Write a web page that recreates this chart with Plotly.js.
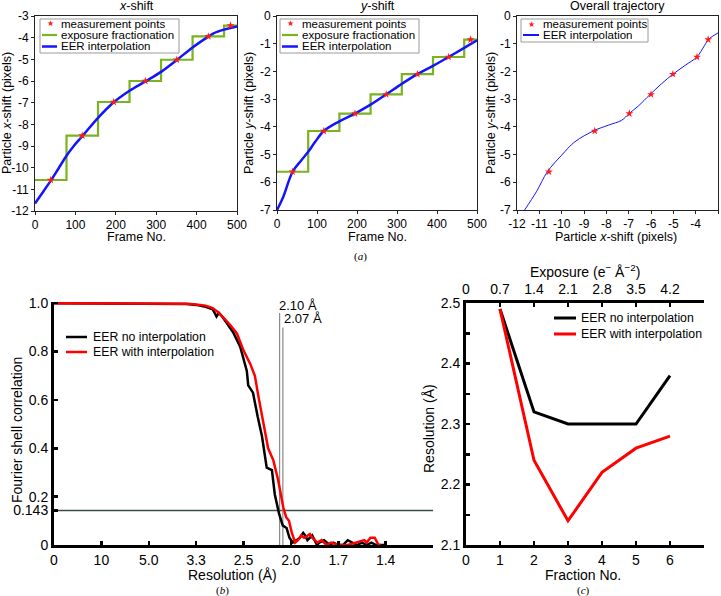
<!DOCTYPE html>
<html><head><meta charset="utf-8">
<script src="https://cdn.plot.ly/plotly-3.0.1.min.js"></script>
<style>html,body{margin:0;padding:0;background:#fff}#c{width:721px;height:596px}</style>
</head><body><div id="c"></div>
<script>
// ---------- Panel (a) data ----------
const frames = [0, 15, 39, 60, 78, 95, 117, 156, 195, 234, 273, 312, 351, 390, 429, 442, 468, 500];
const xShiftEER = [-11.65, -11.25, -10.6, -9.98, -9.45, -9.02, -8.55, -7.7, -6.98, -6.45, -6.02, -5.58, -5.03, -4.45, -3.95, -3.8, -3.63, -3.48];
const yShiftEER = [-7.0, -6.55, -5.62, -5.22, -4.9, -4.55, -4.15, -3.8, -3.52, -3.2, -2.83, -2.45, -2.10, -1.8, -1.48, -1.37, -1.15, -0.88];
const stepFrames = [0, 78, 156, 234, 312, 390, 468, 500];
const xShiftSteps = [-10.57, -8.52, -6.97, -6.0, -5.02, -3.94, -3.44, -3.44];
const yShiftSteps = [-5.62, -4.15, -3.52, -2.83, -2.10, -1.48, -0.85, -0.85];
const measFrames = [39, 117, 195, 273, 351, 429, 484];
const measX = [-10.57, -8.52, -6.97, -6.0, -5.02, -3.94, -3.44];
const measY = [-5.62, -4.15, -3.52, -2.83, -2.10, -1.48, -0.85];
const trajX = [-11.66, -11.13, -10.64, -10.0, -9.41, -8.56, -7.91, -7.31, -6.98, -6.57, -6.04, -5.52, -5.02, -4.47, -3.95, -3.6, -3.42, -3.0];
const trajY = [-7.0, -6.34, -5.62, -5.02, -4.54, -4.14, -3.94, -3.76, -3.52, -3.25, -2.83, -2.44, -2.10, -1.78, -1.48, -1.06, -0.84, -0.61];
const frameTicks = [0, 100, 200, 300, 400, 500];
const xShiftTicks = [-3, -4, -5, -6, -7, -8, -9, -10, -11, -12];
const yShiftTicks = [0, -1, -2, -3, -4, -5, -6, -7];
const trajXTicks = [-12, -11, -10, -9, -8, -7, -6, -5, -4, -3];

// ---------- Panel (b) data (spatial frequency 1/Å) ----------
const fscFreqNo = [0, 0.05, 0.1, 0.15, 0.2, 0.25, 0.28, 0.30, 0.32, 0.335, 0.343, 0.348, 0.355, 0.365, 0.378, 0.393, 0.407, 0.41, 0.42, 0.43, 0.439, 0.449, 0.46, 0.466, 0.475, 0.483, 0.491, 0.497, 0.504, 0.512, 0.519, 0.526, 0.53, 0.535, 0.54, 0.545, 0.55, 0.555, 0.56, 0.57, 0.582, 0.59, 0.60, 0.61, 0.62, 0.63, 0.64, 0.65, 0.66, 0.67, 0.68, 0.69, 0.70];
const fscNo     = [1.0, 1.0, 1.0, 1.0, 1.0, 1.0, 0.997, 0.993, 0.985, 0.975, 0.945, 0.96, 0.945, 0.917, 0.88, 0.82, 0.72, 0.66, 0.63, 0.53, 0.45, 0.32, 0.31, 0.21, 0.13, 0.08, 0.07, 0.03, 0.01, 0.02, 0.03, 0.05, 0.04, 0.02, 0.03, 0.04, 0.02, 0.0, 0.01, 0.02, 0.0, 0.01, 0.0, 0.0, 0.02, 0.01, 0.0, 0.01, 0.0, 0.01, 0.0, 0.0, 0.0];
const fscFreqIn = [0, 0.05, 0.1, 0.15, 0.2, 0.25, 0.28, 0.30, 0.32, 0.335, 0.345, 0.36, 0.372, 0.386, 0.40, 0.414, 0.424, 0.431, 0.442, 0.452, 0.463, 0.473, 0.484, 0.49, 0.496, 0.502, 0.509, 0.515, 0.522, 0.528, 0.533, 0.54, 0.545, 0.55, 0.556, 0.565, 0.575, 0.585, 0.60, 0.62, 0.64, 0.655, 0.66, 0.668, 0.677, 0.685, 0.69];
const fscIn     = [1.0, 1.0, 1.0, 1.0, 1.0, 1.0, 0.998, 0.995, 0.99, 0.98, 0.965, 0.935, 0.91, 0.875, 0.805, 0.75, 0.70, 0.62, 0.50, 0.40, 0.35, 0.27, 0.155, 0.115, 0.10, 0.05, 0.01, 0.02, 0.04, 0.03, 0.035, 0.045, 0.03, 0.02, 0.01, 0.02, 0.0, 0.01, 0.0, 0.0, 0.01, 0.02, 0.01, 0.03, 0.03, 0.0, 0.0];
const resTickVals = [0, 0.1, 0.2, 0.3, 0.4, 0.5, 0.6, 0.7];
const resTickText = ["0", "10", "5.0", "3.3", "2.5", "2.0", "1.7", "1.4"];
const fscTickVals = [0, 0.143, 0.2, 0.4, 0.6, 0.8, 1.0];
const fscTickText = ["0", "0.143", "0.2", "0.4", "0.6", "0.8", "1.0"];
const cutoffRes = [2.10, 2.07];
const cutoffTop = [0.96, 0.90];
const fscThreshold = 0.143;

// ---------- Panel (c) data ----------
const fractions = [1, 2, 3, 4, 5, 6];
const resNoInterp = [2.49, 2.32, 2.30, 2.30, 2.30, 2.38];
const resInterp = [2.49, 2.24, 2.14, 2.22, 2.26, 2.28];
const fractionTicks = [0, 1, 2, 3, 4, 5, 6];
const resTicks = [2.1, 2.2, 2.3, 2.4, 2.5];
const exposureTicks = [0, 0.7, 1.4, 2.1, 2.8, 3.5, 4.2];
const exposureText = ["0", "0.7", "1.4", "2.1", "2.8", "3.5", "4.2"];

const F = "Liberation Sans, Arial, sans-serif";
const GREEN = "#79b41e", BLUE = "#1414ff", RED = "#ff0000", STAR = "#ff1a1a";
const hy = v => String(v);
const W = 721, H = 596;
const px = v => v / W, py = v => 1 - v / H;

const traces = [
  // panel 1
  {x: stepFrames, y: xShiftSteps, xaxis: 'x', yaxis: 'y', mode: 'lines', line: {shape: 'hv', color: GREEN, width: 2.2}, name: 'exposure fractionation'},
  {x: frames, y: xShiftEER, xaxis: 'x', yaxis: 'y', mode: 'lines', line: {shape: 'spline', color: BLUE, width: 2.5}, name: 'EER interpolation'},
  {x: measFrames, y: measX, xaxis: 'x', yaxis: 'y', mode: 'markers', name: 'measurement points', marker: {symbol: 'star', size: 6, color: STAR}},
  // panel 2
  {x: stepFrames, y: yShiftSteps, xaxis: 'x2', yaxis: 'y2', mode: 'lines', line: {shape: 'hv', color: GREEN, width: 2.2}, name: 'exposure fractionation'},
  {x: frames, y: yShiftEER, xaxis: 'x2', yaxis: 'y2', mode: 'lines', line: {shape: 'spline', color: BLUE, width: 2.5}, name: 'EER interpolation'},
  {x: measFrames, y: measY, xaxis: 'x2', yaxis: 'y2', mode: 'markers', name: 'measurement points', marker: {symbol: 'star', size: 6, color: STAR}},
  // panel 3
  {x: trajX, y: trajY, xaxis: 'x3', yaxis: 'y3', mode: 'lines', line: {shape: 'spline', color: BLUE, width: 1}, name: 'EER interpolation'},
  {x: measX, y: measY, xaxis: 'x3', yaxis: 'y3', mode: 'markers', name: 'measurement points', marker: {symbol: 'star', size: 6, color: STAR}},
  // panel b
  {x: [0, 0.8], y: [fscThreshold, fscThreshold], xaxis: 'x4', yaxis: 'y4', mode: 'lines', line: {color: '#3c4c4c', width: 1.5}},
  {x: [1 / cutoffRes[0], 1 / cutoffRes[0]], y: [0, cutoffTop[0]], xaxis: 'x4', yaxis: 'y4', mode: 'lines', line: {color: '#8a8a8a', width: 1.2}},
  {x: [1 / cutoffRes[1], 1 / cutoffRes[1]], y: [0, cutoffTop[1]], xaxis: 'x4', yaxis: 'y4', mode: 'lines', line: {color: '#8a8a8a', width: 1.2}},
  {x: fscFreqNo, y: fscNo, xaxis: 'x4', yaxis: 'y4', mode: 'lines', line: {color: '#000', width: 2.5}, name: 'EER no interpolation'},
  {x: fscFreqIn, y: fscIn, xaxis: 'x4', yaxis: 'y4', mode: 'lines', line: {color: RED, width: 2.5}, name: 'EER with interpolation'},
  // panel c
  {x: fractions, y: resNoInterp, xaxis: 'x5', yaxis: 'y5', mode: 'lines', line: {color: '#000', width: 3}, name: 'EER no interpolation'},
  {x: fractions, y: resInterp, xaxis: 'x5', yaxis: 'y5', mode: 'lines', line: {color: RED, width: 3}, name: 'EER with interpolation'},
  {x: exposureTicks, y: exposureTicks.map(() => null), xaxis: 'x6', yaxis: 'y5', mode: 'lines', hoverinfo: 'skip'}
];

const dx = (a, b) => [a / W, b / W];
const dy = (top, bot) => [1 - bot / H, 1 - top / H];
const boxAx = (extra) => Object.assign({
  showline: true, mirror: true, linecolor: '#222', linewidth: 1, showgrid: false, zeroline: false,
  ticks: 'outside', ticklen: 3, tickwidth: 1, tickcolor: '#222',
  tickfont: {family: F, size: 12, color: '#000'}, tickmode: 'array'
}, extra);
const thickAx = (extra) => Object.assign({
  showline: true, linecolor: '#000', linewidth: 3, showgrid: false, zeroline: false,
  ticks: 'inside', ticklen: 4, tickwidth: 2.5, tickcolor: '#000',
  tickfont: {family: F, size: 14, color: '#000'}, tickmode: 'array'
}, extra);

// ---- text helpers (axis titles, panel titles, legends as paper-positioned text) ----
const annotations = [];
const shapes = [];
const txt = (x, y, text, size, opts) => annotations.push(Object.assign({
  xref: 'paper', yref: 'paper', x: px(x), y: py(y), text: text, showarrow: false,
  font: {family: F, size: size, color: '#000'}, xanchor: 'center', yanchor: 'middle'
}, opts || {}));
const hline = (x0, x1, y, color, width) => shapes.push({type: 'line', xref: 'paper', yref: 'paper',
  x0: px(x0), x1: px(x1), y0: py(y), y1: py(y), line: {color: color, width: width}});
const box = (x0, y0, x1, y1) => shapes.push({type: 'rect', xref: 'paper', yref: 'paper',
  x0: px(x0), x1: px(x1), y0: py(y1), y1: py(y0), line: {color: '#9a9a9a', width: 1}, fillcolor: '#fff', layer: 'above'});

// panel titles
txt(136, 6, '<i>x</i>-shift', 12.5);
txt(377, 6, '<i>y</i>-shift', 12.5);
txt(617, 6, 'Overall trajectory', 12.5);
// axis titles (a)
txt(136, 237, 'Frame No.', 12.5);
txt(377, 237, 'Frame No.', 12.5);
txt(616, 237, 'Particle <i>x</i>-shift (pixels)', 12.5);
txt(7, 113, 'Particle <i>x</i>-shift (pixels)', 12.5, {textangle: -90});
txt(249, 113, 'Particle <i>y</i>-shift (pixels)', 12.5, {textangle: -90});
txt(491, 113, 'Particle <i>y</i>-shift (pixels)', 12.5, {textangle: -90});
// axis titles (b), (c)
txt(232, 575, 'Resolution (Å)', 14);
txt(17, 430, 'Fourier shell correlation', 14, {textangle: -90});
txt(583, 575, 'Fraction No.', 14);
txt(429, 428, 'Resolution (Å)', 14, {textangle: -90});
txt(585, 271, 'Exposure (e<sup>−</sup> Å<sup>−2</sup>)', 14);
// captions
txt(360, 256, '(<i>a</i>)', 11, {font: {family: 'Liberation Serif, serif', size: 11, color: '#000'}});
txt(223, 590, '(<i>b</i>)', 11, {font: {family: 'Liberation Serif, serif', size: 11, color: '#000'}});
txt(583, 590, '(<i>c</i>)', 11, {font: {family: 'Liberation Serif, serif', size: 11, color: '#000'}});
// resolution cut-off labels
annotations.push({xref: 'x4', yref: 'y4', x: 1 / cutoffRes[0], y: 0.99, text: cutoffRes[0].toFixed(2) + ' Å', showarrow: false, xanchor: 'left', xshift: -3, font: {family: F, size: 13, color: '#000'}});
annotations.push({xref: 'x4', yref: 'y4', x: 1 / cutoffRes[1], y: 0.935, text: cutoffRes[1].toFixed(2) + ' Å', showarrow: false, xanchor: 'left', xshift: -1, font: {family: F, size: 13, color: '#000'}});

// legends
const starKey = (x, y) => txt(x, y + 0.5, '★', 8, {font: {family: 'DejaVu Sans', size: 8, color: STAR}});
const legText = (x, y, s, size) => txt(x, y, s, size, {xanchor: 'left'});
// panel 1
box(40, 19, 179, 53);
starKey(50, 23.5); legText(59, 23.5, traces[2].name, 11.5);
hline(42, 57, 35, GREEN, 2.2); legText(59, 35, traces[0].name, 11.5);
hline(42, 57, 46.5, BLUE, 2.5); legText(59, 46.5, traces[1].name, 11.5);
// panel 2
box(280, 19, 419, 53);
starKey(290, 23.5); legText(300, 23.5, traces[5].name, 11.5);
hline(282, 298, 35, GREEN, 2.2); legText(300, 35, traces[3].name, 11.5);
hline(282, 298, 46.5, BLUE, 2.5); legText(300, 46.5, traces[4].name, 11.5);
// panel 3
box(521, 19, 648, 42);
starKey(531, 24); legText(541, 24, traces[7].name, 11.5);
hline(523, 539, 35, BLUE, 2); legText(541, 35, traces[6].name, 11.5);
// panel b
hline(66, 87, 337, '#000', 2.5); legText(91, 337, traces[11].name, 12.3);
hline(66, 87, 352, RED, 2.5); legText(91, 352, traces[12].name, 12.3);
// panel c
hline(554, 576, 318, '#000', 3); legText(579, 318, traces[13].name, 12.3);
hline(554, 576, 334, RED, 3); legText(579, 334, traces[14].name, 12.3);

const layout = {
  width: W, height: H, autosize: false, margin: {l: 0, r: 0, t: 0, b: 0},
  paper_bgcolor: '#fff', plot_bgcolor: '#fff', showlegend: false,
  xaxis: boxAx({domain: dx(35, 237), anchor: 'y', range: [0, 500], tickvals: frameTicks, ticktext: frameTicks.map(hy)}),
  yaxis: boxAx({domain: dy(16, 211), anchor: 'x', range: [-12, -3], tickvals: xShiftTicks, ticktext: xShiftTicks.map(hy)}),
  xaxis2: boxAx({domain: dx(277, 477), anchor: 'y2', range: [0, 500], tickvals: frameTicks, ticktext: frameTicks.map(hy)}),
  yaxis2: boxAx({domain: dy(16, 210), anchor: 'x2', range: [-7, 0], tickvals: yShiftTicks, ticktext: yShiftTicks.map(hy)}),
  xaxis3: boxAx({domain: dx(517, 718), anchor: 'y3', range: [-12, -3], tickvals: trajXTicks, ticktext: trajXTicks.map(hy)}),
  yaxis3: boxAx({domain: dy(16, 210), anchor: 'x3', range: [-7, 0], tickvals: yShiftTicks, ticktext: yShiftTicks.map(hy)}),
  xaxis4: thickAx({domain: dx(54, 433), anchor: 'y4', range: [0, 0.8], tickvals: resTickVals, ticktext: resTickText}),
  yaxis4: thickAx({domain: dy(302, 545), anchor: 'x4', range: [0, 1.005], tickvals: fscTickVals, ticktext: fscTickText}),
  xaxis5: thickAx({domain: dx(466, 704), anchor: 'y5', range: [0, 7], tickvals: fractionTicks, ticktext: fractionTicks.map(hy)}),
  yaxis5: thickAx({domain: dy(303, 545), anchor: 'x5', range: [2.1, 2.5], tickvals: resTicks, ticktext: resTicks.map(v => v.toFixed(1)),
    minor: {tickvals: [2.15, 2.25, 2.35, 2.45], ticks: 'inside', ticklen: 4, tickwidth: 2.5, tickcolor: '#000'}}),
  xaxis6: thickAx({overlaying: 'x5', anchor: 'y5', side: 'top', range: [0, 4.9], tickvals: exposureTicks, ticktext: exposureText}),
  annotations: annotations,
  shapes: shapes
};

Plotly.newPlot('c', traces, layout, {displayModeBar: false, staticPlot: true});
</script>
</body></html>
